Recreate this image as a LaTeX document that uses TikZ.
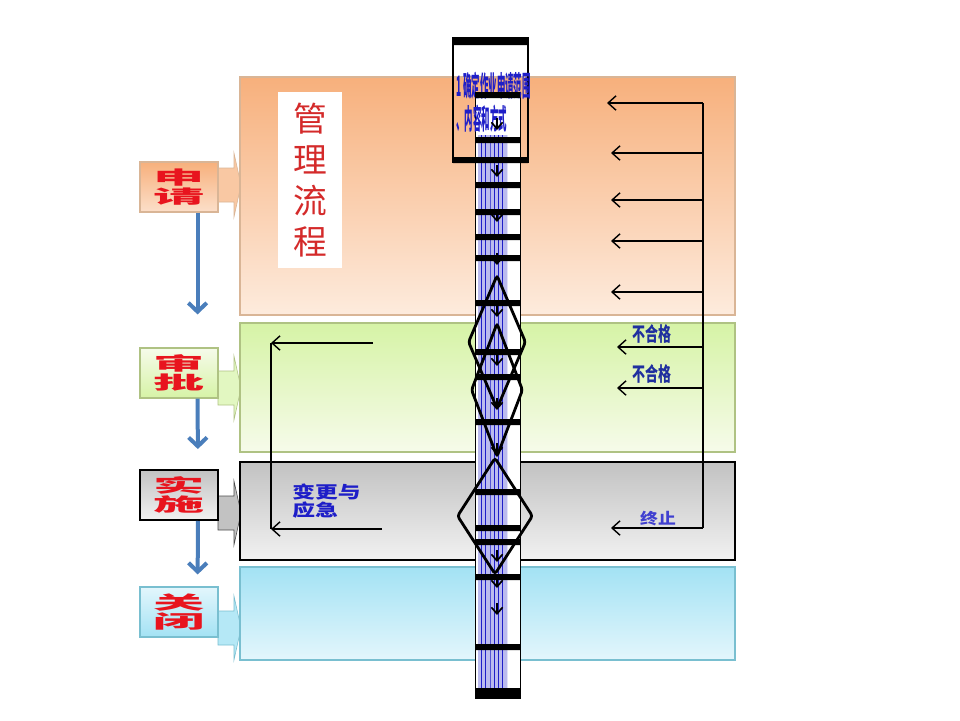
\documentclass[tikz,border=0pt]{standalone}
\usepackage{fontspec}
\usepackage{graphicx}
\setmainfont{Noto Sans CJK SC}
\usetikzlibrary{arrows.meta,patterns,shapes.geometric}

\definecolor{orgTop}{HTML}{F7B07C}
\definecolor{orgBot}{HTML}{FDEBDD}
\definecolor{orgLine}{HTML}{D9B596}
\definecolor{grnTop}{HTML}{D6F3A6}
\definecolor{grnBot}{HTML}{F6FBEA}
\definecolor{grnLine}{HTML}{AFC283}
\definecolor{gryTop}{HTML}{C2C2C2}
\definecolor{gryBot}{HTML}{F1F1F1}
\definecolor{bluTop}{HTML}{A3E2F4}
\definecolor{bluBot}{HTML}{E3F6FC}
\definecolor{bluLine}{HTML}{79BFD0}
\definecolor{stageRed}{HTML}{E8141E}
\definecolor{titleRed}{HTML}{D42A2A}
\definecolor{flowBlue}{HTML}{4A7EBB}
\definecolor{txtBlue}{HTML}{1E1EC8}
\definecolor{failBlue}{HTML}{1F2F9F}

\begin{document}
\begin{tikzpicture}[x=0.25mm, y=-0.25mm,
  band/.style={draw=#1, line width=0.8pt},
  stage/.style={draw=#1, line width=0.8pt, minimum width=19.5mm, minimum height=12.5mm,
    inner sep=0pt, align=center, text=stageRed, font=\bfseries\fontsize{13}{14}\selectfont},
  pointer/.style={draw=#1, line width=0.4pt},
  flow/.style={draw=flowBlue, line width=1mm, -{Straight Barb[length=2.2mm,width=4.6mm]}},
  back/.style={line width=1pt, -{Straight Barb[length=2mm,width=3.6mm]}},
  tick/.style={line width=1.2pt, -{Straight Barb[length=1.6mm,width=2.8mm]}},
  decision/.style={diamond, draw, line width=2pt, rounded corners=2pt, inner sep=0pt},
  note/.style={inner sep=0pt, font=\bfseries}
]
\useasboundingbox (0,0) rectangle (960,720);

% Stage pointers
\filldraw[pointer=orgLine, fill=orgTop!70!white] (218,168) -- (234,168) -- (234,153) -- (241,185)
  -- (234,217) -- (234,202) -- (218,202) -- cycle;
\filldraw[pointer=grnLine, fill=grnTop!70!white] (218,371) -- (234,371) -- (234,356) -- (241,388)
  -- (234,420) -- (234,405) -- (218,405) -- cycle;
\filldraw[pointer=black!70, fill=gryTop] (218,496) -- (234,496) -- (234,481) -- (241,513)
  -- (234,545) -- (234,530) -- (218,530) -- cycle;
\filldraw[pointer=bluLine, fill=bluTop!80!white] (218,611) -- (234,611) -- (234,596) -- (241,628)
  -- (234,660) -- (234,645) -- (218,645) -- cycle;

% Stage bands
\draw[band=orgLine, top color=orgTop, bottom color=orgBot] (240,77) rectangle (735,315);
\draw[band=grnLine, top color=grnTop, bottom color=grnBot] (240,323) rectangle (735,452);
\draw[band=black, top color=gryTop, bottom color=gryBot] (240,462) rectangle (735,560);
\draw[band=bluLine, top color=bluTop, bottom color=bluBot] (240,567) rectangle (735,660);

% Stage labels
\node[stage=orgLine, top color=orgTop, bottom color=orgBot!80!orgTop] (apply) at (179,187)
  {\scalebox{2.8}[1]{申}\\\scalebox{2.8}[1]{请}};
\node[stage=grnLine, top color=grnBot, bottom color=grnTop] (approve) at (179,373)
  {\scalebox{2.8}[1]{审}\\\scalebox{2.8}[1]{批}};
\node[stage=black, line width=1.4pt, top color=gryTop, bottom color=gryBot] (implement) at (179,495)
  {\scalebox{2.8}[1]{实}\\\scalebox{2.8}[1]{施}};
\node[stage=bluLine, top color=bluBot, bottom color=bluTop] (close) at (179,612)
  {\scalebox{2.8}[1]{关}\\\scalebox{2.8}[1]{闭}};

% Stage order
\draw[flow, shorten >=8.25mm] ([xshift=-5.25mm]apply.south east) -- ([xshift=-5.25mm]approve.north east);
\draw[flow, shorten >=5mm] ([xshift=-5.25mm]approve.south east) -- ([xshift=-5.25mm]implement.north east);
\draw[flow, shorten >=3mm] ([xshift=-5.25mm]implement.south east) -- ([xshift=-5.25mm]close.north east);

% Title
\node[fill=white, minimum width=16mm, minimum height=44mm, inner sep=0pt, align=center,
  text=titleRed, font=\fontsize{24}{29}\selectfont] (title) at (310,180) {管\\理\\流\\程};

% Process column
\draw[fill=white, line width=0.6pt] (475,92) rectangle (520,698);
\fill[txtBlue!30] (478,135) rectangle (507,690);
\fill[pattern=vertical lines, pattern color=txtBlue] (478,135) rectangle (507,690);
\draw[line width=0.8pt] (453,38) rectangle (528,162);
\node[note, text=txtBlue, anchor=north west, align=left, font=\bfseries\fontsize{20}{23}\selectfont]
  (step1) at (456,72) {\scalebox{0.3}[1]{1 确定作业申请范围}\\\scalebox{0.3}[1]{、内容和方式}};
\fill (453,38) rectangle (528,45) (453,157) rectangle (528,163)
  (475,92) rectangle (520,98) (475,137) rectangle (520,143) (475,182) rectangle (520,188)
  (475,209) rectangle (520,215) (475,234) rectangle (520,240) (475,255) rectangle (520,261)
  (475,300) rectangle (520,306) (475,349) rectangle (520,355) (475,374) rectangle (520,380)
  (475,419) rectangle (520,425) (475,489) rectangle (520,495) (475,525) rectangle (520,531)
  (475,539) rectangle (520,545) (475,574) rectangle (520,580) (475,644) rectangle (520,650)
  (475,688) rectangle (520,698);

% Flow ticks
\draw[tick] (497,118) -- (497,130);
\draw[tick] (497,165) -- (497,177);
\draw[tick] (497,210) -- (497,222);
\draw[tick] (497,253) -- (497,265);
\draw[tick] (497,305) -- (497,317);
\draw[tick] (497,354) -- (497,366);
\draw[tick] (497,398) -- (497,410);
\draw[tick] (497,443) -- (497,455);
\draw[tick] (497,550) -- (497,562);
\draw[tick] (497,576) -- (497,588);
\draw[tick] (497,603) -- (497,615);

% Decisions
\node[decision, minimum width=14.5mm, minimum height=33.5mm] (check1) at (497,342) {};
\node[decision, minimum width=13mm, minimum height=33.5mm] (check2) at (497,390) {};
\node[decision, minimum width=19mm, minimum height=29.25mm] (check3) at (495,516) {};

% Feedback (right)
\coordinate (fbTop) at (703,103);
\coordinate (fb2) at (703,153);
\coordinate (fb3) at (703,200);
\coordinate (fb4) at (703,241);
\coordinate (fb5) at (703,292);
\coordinate (fb6) at (703,347);
\coordinate (fb7) at (703,388);
\coordinate (fbEnd) at (703,528);
\coordinate (ret1) at (607,103);
\coordinate (ret2) at (611,153);
\coordinate (ret3) at (611,200);
\coordinate (ret4) at (611,241);
\coordinate (ret5) at (611,292);
\coordinate (ret6) at (617,347);
\coordinate (ret7) at (617,388);
\coordinate (ret8) at (611,528);
\draw[line width=1pt] (fbTop) -- (fbEnd);
\draw[back] (fbTop) -- (ret1);
\draw[back] (fb2) -- (ret2);
\draw[back] (fb3) -- (ret3);
\draw[back] (fb4) -- (ret4);
\draw[back] (fb5) -- (ret5);
\draw[back] (fb6) -- (ret6);
\draw[back] (fb7) -- (ret7);
\draw[back] (fbEnd) -- (ret8);
\node[note, text=failBlue, font=\bfseries\fontsize{14}{14}\selectfont] (fail1) at (652,334) {\scalebox{0.66}[1]{不合格}};
\node[note, text=failBlue, font=\bfseries\fontsize{14}{14}\selectfont] (fail2) at (652,374) {\scalebox{0.66}[1]{不合格}};
\node[note, text=txtBlue!85!white, font=\bfseries\fontsize{11}{11}\selectfont] (stop) at (658,519) {\scalebox{1.15}[1]{终止}};

% Change loop (left)
\coordinate (chgTop) at (373,343);
\coordinate (chgBot) at (382,529);
\coordinate (chgL1) at (271,343);
\coordinate (chgL2) at (271,529);
\draw[line width=1pt] (chgL1) -- (chgL2);
\draw[back] (chgTop) -- (chgL1);
\draw[back] (chgBot) -- (chgL2);
\node[note, text=txtBlue, anchor=west, align=left, font=\bfseries\fontsize{12}{12.5}\selectfont]
  (change) at (292,501) {\scalebox{1.35}[1]{变更与}\\\scalebox{1.35}[1]{应急}};

\end{tikzpicture}
\end{document}
